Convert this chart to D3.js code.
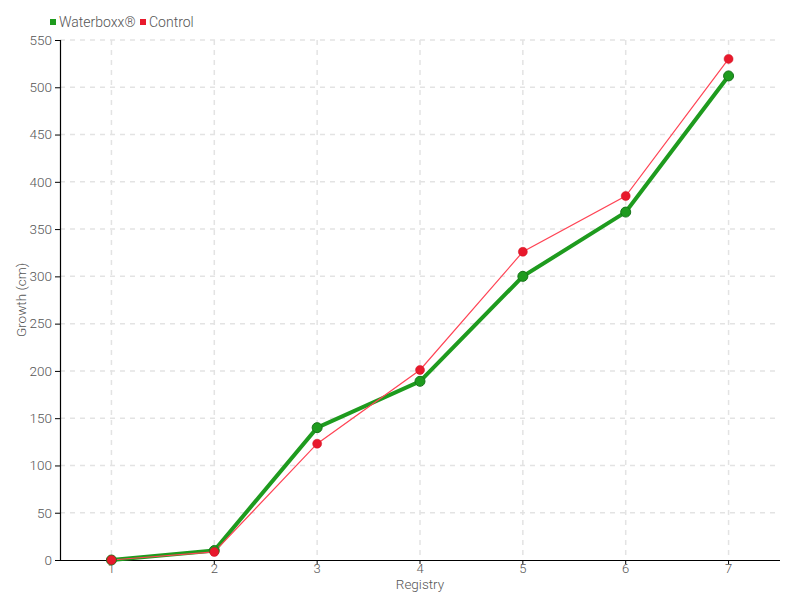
<!DOCTYPE html>
<html><head><meta charset="utf-8">
<script src="https://cdn.jsdelivr.net/npm/d3@7"></script>
<style>
body{margin:0;background:#fff;}
text{font-family:Roboto,"Liberation Sans Narrow",sans-serif;font-weight:300;fill:#555;font-size:14px;}
</style></head><body>
<svg id="c" width="800" height="600"></svg>
<script>
const categories = ["1","2","3","4","5","6","7"];
const waterboxx = [0, 10, 140, 189, 300, 368, 512];
const control = [0, 8.5, 123, 201, 326, 385, 530];
const yTicks = [0,50,100,150,200,250,300,350,400,450,500,550];
const seriesNames = ["Waterboxx®","Control"];
const colors = ["#1e9b1e","#e8192c"];

const svg = d3.select("#c");
const m = {l:60, r:20, t:40, b:40};
const W = 800, H = 600;
const x = d3.scaleBand().domain(categories).range([m.l, W-m.r]);
const y = d3.scaleLinear().domain([0,550]).range([H-m.b, m.t]);
const cx = d => x(d) + x.bandwidth()/2;

// grid
const g = svg.append("g");
g.selectAll(".hg").data(yTicks.slice(1)).enter().append("line")
  .attr("x1", m.l).attr("x2", W-m.r).attr("y1", d=>y(d)).attr("y2", d=>y(d))
  .attr("stroke","#e3e3e3").attr("stroke-dasharray","5,5").attr("stroke-width",1.5);
g.selectAll(".vg").data(categories).enter().append("line")
  .attr("x1", cx).attr("x2", cx).attr("y1", m.t).attr("y2", H-m.b)
  .attr("stroke","#e3e3e3").attr("stroke-dasharray","5,5").attr("stroke-width",1.5);

// axes
const ya = svg.append("g").attr("transform",`translate(${m.l},0)`)
  .call(d3.axisLeft(y).tickValues(yTicks).tickSize(5).tickPadding(3));
const xa = svg.append("g").attr("transform",`translate(0,${H-m.b})`)
  .call(d3.axisBottom(x).tickSize(4).tickPadding(0));
[ya,xa].forEach(a=>{
  a.select(".domain").attr("stroke","#000").attr("stroke-width",1.2);
  a.selectAll(".tick line").attr("stroke","#000");
  a.selectAll(".tick text").style("font-family","Roboto, sans-serif").style("font-weight","300").attr("fill","#555");
});
ya.selectAll(".tick text").style("font-size","13.5px");
xa.selectAll(".tick text").style("font-size","13px");
xa.select(".domain").attr("d",`M${m.l},0.5H${W-m.r}`);
ya.select(".domain").attr("d",`M0.5,${H-m.b}V${m.t}`);

svg.append("text").attr("x", (m.l+W-m.r)/2).attr("y", 589).attr("text-anchor","middle").style("font-size","13.5px").text("Registry");
svg.append("text").attr("transform",`translate(26,${(m.t+H-m.b)/2}) rotate(-90)`).attr("text-anchor","middle").style("font-size","13.5px").text("Growth (cm)");

// lines
const line = d3.line().x((d,i)=>cx(categories[i])).y(d=>y(d));
svg.append("path").datum(waterboxx).attr("d",line).attr("fill","none").attr("stroke",colors[0]).attr("stroke-width",4);
svg.append("path").datum(control).attr("d",line).attr("fill","none").attr("stroke","#ff4455").attr("stroke-width",1.2);

svg.selectAll(".pw").data(waterboxx).enter().append("circle")
  .attr("cx",(d,i)=>cx(categories[i])).attr("cy",d=>y(d)).attr("r",5)
  .attr("fill",colors[0]).attr("stroke","#17751a").attr("stroke-width",1);
svg.selectAll(".pc").data(control).enter().append("circle")
  .attr("cx",(d,i)=>cx(categories[i])).attr("cy",d=>y(d)).attr("r",4.5)
  .attr("fill",colors[1]).attr("stroke","#d01020").attr("stroke-width",0.5);

// legend
const leg = svg.append("g");
const lx = [50, 140];
seriesNames.forEach((n,i)=>{
  leg.append("rect").attr("x",lx[i]).attr("y",19).attr("width",6).attr("height",6).attr("fill",colors[i]);
  leg.append("text").attr("x",lx[i]+9).attr("y",27).text(n);
});
</script></body></html>
